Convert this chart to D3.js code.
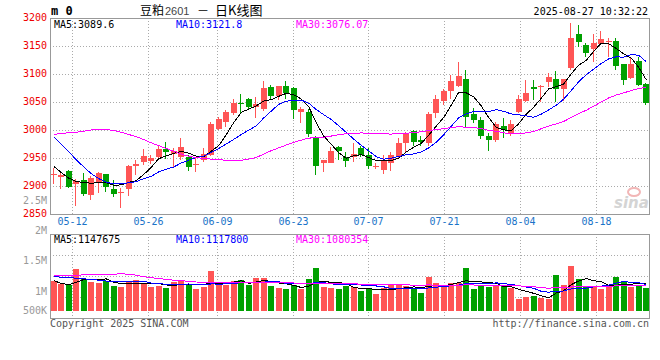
<!DOCTYPE html>
<html><head><meta charset="utf-8">
<script src="https://cdn.jsdelivr.net/npm/d3@7/dist/d3.min.js"></script>
<style>
body{margin:0;background:#fff}
svg{display:block}
text{font-family:"DejaVu Sans Mono","Liberation Mono",monospace}
</style>
</head><body>
<svg id="chart" width="660" height="360"></svg>
<script>
// ---------------- DATA ----------------
const dates = ["05-07","05-08","05-09","05-12","05-13","05-14","05-15","05-16","05-19","05-20",
"05-21","05-22","05-23","05-26","05-27","05-28","05-29","05-30","06-03","06-04",
"06-05","06-06","06-09","06-10","06-11","06-12","06-13","06-16","06-17","06-18",
"06-19","06-20","06-23","06-24","06-25","06-26","06-27","06-30","07-01","07-02",
"07-03","07-04","07-07","07-08","07-09","07-10","07-11","07-14","07-15","07-16",
"07-17","07-18","07-21","07-22","07-23","07-24","07-25","07-28","07-29","07-30",
"07-31","08-01","08-04","08-05","08-06","08-07","08-08","08-11","08-12","08-13",
"08-14","08-15","08-18","08-19","08-20","08-21","08-22","08-25","08-26","08-27"];

const open  = [2921,2915,2926,2904,2910,2883,2907,2921,2895,2889,2895,2936,2943,2945,2952,2966,2956,2952,2951,2939,
2948,2955,3001,3015,3031,3049,3055,3042,3037,3077,3060,3079,3075,3032,3032,2987,2940,2941,2969,2951,
2952,2967,2955,2935,2928,2940,2952,2976,2998,2983,2977,3031,3052,3070,3078,3091,3029,3018,2990,2982,
3007,2994,3032,3052,3076,3078,3086,3091,3073,3111,3171,3151,3145,3154,3158,3159,3117,3093,3124,3082];
const high  = [2933,2925,2928,2913,2924,2917,2925,2922,2910,2897,2937,2946,2966,2955,2972,2979,2967,2985,2956,2951,
2967,3015,3023,3035,3055,3065,3057,3059,3088,3081,3079,3087,3077,3041,3038,2989,2946,2970,2971,2961,
2977,2972,2968,2941,2956,2961,2986,2997,3000,2989,3033,3063,3074,3098,3122,3107,3040,3023,2994,3015,
3021,3018,3062,3089,3089,3080,3101,3105,3091,3191,3188,3155,3171,3177,3164,3164,3117,3128,3131,3084];
const low   = [2904,2895,2897,2865,2883,2875,2887,2890,2880,2860,2883,2919,2937,2939,2947,2949,2932,2947,2927,2925,
2943,2954,3000,3006,3026,3030,3035,3021,3034,3056,3053,3056,3019,3013,2988,2919,2925,2941,2946,2934,
2943,2951,2931,2931,2922,2926,2949,2961,2972,2972,2971,3022,3044,3056,3077,3003,3012,2984,2962,2979,
2986,2989,3030,3050,3053,3050,3077,3050,3051,3108,3149,3131,3121,3153,3131,3108,3081,3091,3079,3045];
const close = [2921,2919,2898,2909,2885,2914,2923,2898,2886,2889,2936,2939,2953,2950,2966,2961,2962,2970,2934,2939,
2958,3010,3019,3032,3048,3048,3040,3047,3075,3061,3078,3066,3035,3037,2992,2935,2946,2963,2961,2943,
2958,2955,2936,2935,2946,2955,2976,2992,2978,2979,3029,3056,3070,3087,3096,3023,3019,2990,2982,3010,
3000,3010,3055,3066,3073,3079,3095,3073,3091,3164,3156,3137,3155,3163,3159,3114,3088,3118,3081,3048];
const volume = [1250000,1185000,1160000,1540000,1290000,1225000,1200000,1260000,1125000,1100000,
1240000,1270000,1185000,1100000,1125000,1075000,1225000,1270000,1160000,1040000,
1100000,1490000,1140000,1140000,1240000,1270000,1160000,1325000,1325000,1125000,
1075000,1040000,1140000,1060000,1290000,1575000,1100000,1075000,1040000,1125000,
1100000,990000,1040000,920000,1075000,1140000,1140000,1120000,1040000,950000,
1350000,1200000,1120000,1200000,1200000,1575000,1040000,1125000,1100000,1125000,
1120000,1075000,790000,850000,875000,825000,810000,1390000,1140000,1625000,
1290000,1120000,1100000,1040000,1125000,1340000,1240000,1100000,1140000,1075000];

// moving-average values for the days whose window starts before 05-07
const ma5Head  = [2935,2924,2914,2908];
const ma10Head = [2988,2975,2961,2947,2934,2922,2913,2907,2904];
const ma30Head = [2992,2994,2995,2996,2998,3000,3001,3001,2999,2996,2992,2988,2983,2977,2972,
2967,2962,2957,2953,2951,2949,2948,2947,2946,2946,2946,2948,2951,2957];
const vma5Head  = [1260000,1190000,1160000,1220000];
const vma10Head = [1360000,1345000,1335000,1320000,1305000,1290000,1270000,1250000,1235000];
const vma30Head = [1375000,1378000,1382000,1390000,1405000,1410000,1412000,1415000,1420000,1430000,
1420000,1395000,1355000,1335000,1310000,1290000,1270000,1260000,1240000,1225000,
1220000,1215000,1212000,1210000,1210000,1210000,1210000,1210000,1210000];

const xTickDates = ["05-12","05-26","06-09","06-23","07-07","07-21","08-04","08-18"];
const priceTicks = [3200,3150,3100,3050,3000,2950,2900,2850];
const volTicks   = [2500000,2000000,1500000,1000000,500000];
const volTickLabels = ["2.5M","2M","1.5M","1M","500K"];

const titleParts = ["豆粕", "2601", "－", "日K线图"];
const symbolText = "m 0";
const timeText = "2025-08-27 10:32:22";
const priceMALabels = ["MA5:3089.6","MA10:3121.8","MA30:3076.07"];
const volMALabels   = ["MA5:1147675","MA10:1117800","MA30:1080354"];
const maColors = ["#000000","#0000ff","#ff00ff"];

// ---------------- LAYOUT ----------------
const L = 50, R = 650;
const pTop = 18, pBot = 214;
const vTop = 234, vBot = 318, vBase = 311;
const UP = "#ff5555", DOWN = "#00a000", GRID = "#aaaaaa", AXIS = "#999999";

const svg = d3.select("#chart");
const x = d3.scaleBand().domain(dates).range([L, R]).paddingInner(0.2).paddingOuter(0.1);
const gx = d3.scaleLinear().domain([0, dates.length - 1]).range([L, R]);
const yP = d3.scaleLinear().domain([2850, 3200]).range([pBot, pTop]);
const yV = d3.scaleLinear().domain([500000, 2000000]).range([vBase, vBase - 60]);
const yVLab = d3.scaleLinear().domain([1000000, 2500000]).range([291.3, 200.3]);
const cx = d => Math.round(x(d));

const rows = dates.map((d, i) => ({d, i, o: open[i], h: high[i], l: low[i], c: close[i], v: volume[i]}));

function movingAvg(arr, n, head) {
  return arr.map((_, i) => i < n - 1 ? head[i] : d3.mean(arr.slice(i - n + 1, i + 1)));
}
const ma = [movingAvg(close, 5, ma5Head), movingAvg(close, 10, ma10Head), movingAvg(close, 30, ma30Head)];
const vma = [movingAvg(volume, 5, vma5Head), movingAvg(volume, 10, vma10Head), movingAvg(volume, 30, vma30Head)];

svg.append("defs").call(df => {
  df.append("clipPath").attr("id", "cp").append("rect").attr("x", L).attr("y", pTop).attr("width", R - L).attr("height", pBot - pTop);
  df.append("clipPath").attr("id", "cv").append("rect").attr("x", L).attr("y", vTop).attr("width", R - L).attr("height", vBot - vTop);
});

// ---------------- GRID ----------------
const grid = svg.append("g").attr("stroke", GRID).attr("stroke-dasharray", "1,2").attr("shape-rendering", "crispEdges");
priceTicks.slice(1, -1).forEach(v => {
  const yy = Math.round(yP(v)) + 0.5;
  grid.append("line").attr("x1", L).attr("x2", R).attr("y1", yy).attr("y2", yy);
});
xTickDates.forEach(t => {
  const xx = Math.floor(gx(dates.indexOf(t))) + 0.5;
  grid.append("line").attr("x1", xx).attr("x2", xx).attr("y1", pTop).attr("y2", pBot);
  grid.append("line").attr("x1", xx).attr("x2", xx).attr("y1", vTop).attr("y2", vBot);
});
[0.25, 0.5, 0.75].forEach(f => {
  const yy = Math.round(vTop + (vBot - vTop) * f) + 0.5;
  grid.append("line").attr("x1", L).attr("x2", R).attr("y1", yy).attr("y2", yy);
});

// ---------------- WATERMARK ----------------
svg.append("ellipse").attr("cx", 634).attr("cy", 192).attr("rx", 6).attr("ry", 4)
  .attr("fill", "none").attr("stroke", "#f2b6b6").attr("stroke-width", 2);
svg.append("text").attr("x", 614).attr("y", 208).attr("font-size", 15).attr("font-weight", "bold")
  .attr("font-style", "italic").attr("fill", "#d4d4d4").style("font-family", "'DejaVu Sans',sans-serif").text("sina");

// ---------------- CANDLES ----------------
const cg = svg.append("g").attr("clip-path", "url(#cp)").attr("shape-rendering", "crispEdges");
const bw = Math.round(x.bandwidth());
cg.selectAll(".wick").data(rows).join("line")
  .attr("x1", r => cx(r.d) + 2.5).attr("x2", r => cx(r.d) + 2.5)
  .attr("y1", r => Math.round(yP(r.h))).attr("y2", r => Math.round(yP(r.l)))
  .attr("stroke", r => r.c >= r.o ? UP : DOWN);
cg.selectAll(".body").data(rows).join("rect")
  .attr("x", r => cx(r.d)).attr("width", bw)
  .attr("y", r => Math.round(yP(Math.max(r.o, r.c))))
  .attr("height", r => Math.max(1, Math.round(Math.abs(yP(r.o) - yP(r.c)))))
  .attr("fill", r => r.c >= r.o ? UP : DOWN);

// ---------------- VOLUME ----------------
const vg = svg.append("g").attr("clip-path", "url(#cv)").attr("shape-rendering", "crispEdges");
vg.selectAll("rect").data(rows).join("rect")
  .attr("x", r => cx(r.d)).attr("width", bw)
  .attr("y", r => Math.round(yV(r.v))).attr("height", r => vBase - Math.round(yV(r.v)))
  .attr("fill", r => r.c >= r.o ? UP : DOWN);

// ---------------- MA LINES ----------------
const cxc = i => x(dates[i]) + x.bandwidth() / 2;
ma.forEach((arr, k) => {
  svg.append("path").attr("clip-path", "url(#cp)").attr("fill", "none").attr("stroke", maColors[k]).attr("stroke-width", 1)
    .attr("shape-rendering", "crispEdges")
    .attr("d", d3.line().x((_, i) => cxc(i)).y(v => yP(v))(arr));
});
vma.forEach((arr, k) => {
  svg.append("path").attr("clip-path", "url(#cv)").attr("fill", "none").attr("stroke", maColors[k]).attr("stroke-width", 1)
    .attr("shape-rendering", "crispEdges")
    .attr("d", d3.line().x((_, i) => cxc(i)).y(v => yV(v))(arr));
});

// ---------------- FRAMES ----------------
const fr = svg.append("g").attr("stroke", AXIS).attr("fill", "none").attr("shape-rendering", "crispEdges");
fr.append("rect").attr("x", L + 0.5).attr("y", pTop + 0.5).attr("width", R - L - 1).attr("height", pBot - pTop);
fr.append("rect").attr("x", L + 0.5).attr("y", vTop + 0.5).attr("width", R - L - 1).attr("height", vBot - vTop);

// ---------------- AXIS TEXT ----------------
svg.append("g").selectAll("text").data(priceTicks).join("text")
  .attr("x", 47).attr("y", v => yP(v) - 1).attr("dy", "0.35em").attr("text-anchor", "end")
  .attr("font-size", 10).attr("fill", "#ee0000").text(v => v);
svg.append("g").selectAll("text").data(volTicks).join("text")
  .attr("x", 47).attr("y", v => Math.min(yVLab(v), 310.8)).attr("dy", "0.35em").attr("text-anchor", "end")
  .attr("font-size", 10).attr("fill", "#999999").text((v, i) => volTickLabels[i]);
svg.append("g").selectAll("text").data(xTickDates).join("text")
  .attr("x", t => Math.floor(gx(dates.indexOf(t))) + 0.5).attr("y", 225).attr("text-anchor", "middle")
  .attr("font-size", 10).attr("fill", "#1a73c8").text(t => t);

// ---------------- HEADER / LEGENDS ----------------
const maX = [54, 176, 296];
priceMALabels.forEach((s, k) => svg.append("text").attr("x", maX[k]).attr("y", 28).attr("font-size", 10).attr("fill", maColors[k]).text(s));
volMALabels.forEach((s, k) => svg.append("text").attr("x", maX[k]).attr("y", 243).attr("font-size", 10).attr("fill", maColors[k]).text(s));

svg.append("text").attr("x", 51).attr("y", 15).attr("font-size", 12).attr("font-weight", "bold").attr("fill", "#000").text(symbolText);
const cjk = "'Noto Sans CJK SC',sans-serif";
svg.append("text").attr("x", 140).attr("y", 15).attr("font-size", 12).attr("fill", "#000").style("font-family", cjk).text(titleParts[0]);
svg.append("text").attr("x", 165).attr("y", 15).attr("font-size", 11).attr("fill", "#444").style("font-family", "'Liberation Sans',sans-serif").text(titleParts[1]);
svg.append("text").attr("x", 197).attr("y", 15).attr("font-size", 12).attr("fill", "#000").style("font-family", cjk).text(titleParts[2]);
svg.append("text").attr("x", 215).attr("y", 15).attr("font-size", 13).attr("fill", "#000").style("font-family", cjk).text(titleParts[3]);
svg.append("text").attr("x", 648).attr("y", 15).attr("text-anchor", "end").attr("font-size", 10).attr("fill", "#000").text(timeText);

svg.append("text").attr("x", 50).attr("y", 327).attr("font-size", 10).attr("fill", "#555").text("Copyright 2025 SINA.COM");
svg.append("text").attr("x", 649).attr("y", 327).attr("text-anchor", "end").attr("font-size", 10).attr("fill", "#555").text("http://finance.sina.com.cn");
</script>
</body></html>
